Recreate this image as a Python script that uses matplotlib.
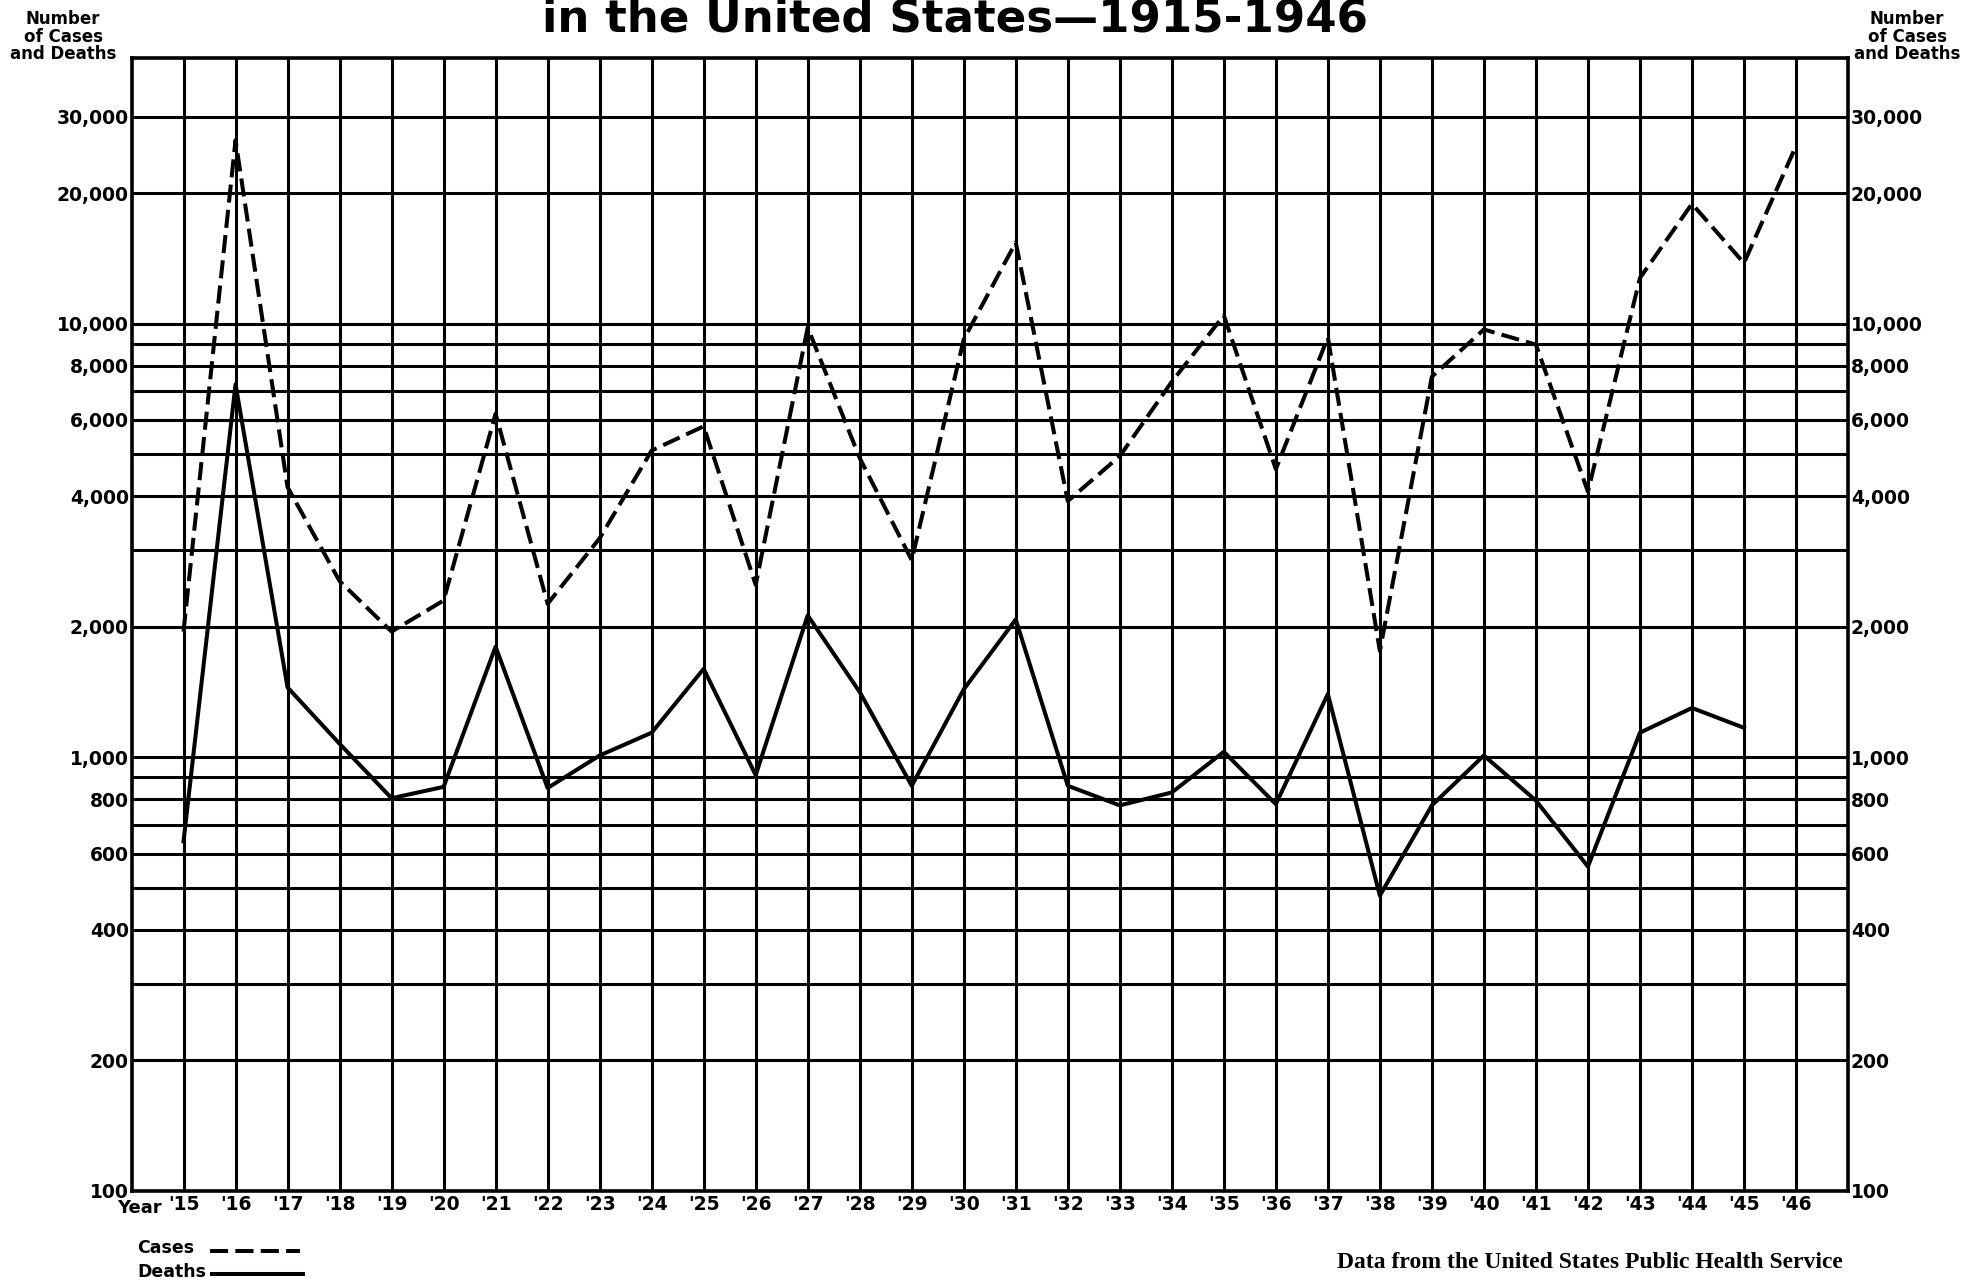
import matplotlib
matplotlib.use('Agg')
import matplotlib.pyplot as plt
import numpy as np
from matplotlib.lines import Line2D

# Polio cases and deaths, USA 1915-1946
years = list(range(1915, 1947))
cases = [1950, 26500, 4200, 2550, 1950, 2300, 6200, 2260, 3200, 5100,
         5800, 2500, 9800, 4900, 2850, 9200, 15400, 3900, 4950, 7350,
         10450, 4620, 9300, 1760, 7550, 9700, 8950, 4100, 12750, 18900,
         13800, 25700]
deaths = [640, 7250, 1450, 1075, 805, 855, 1800, 850, 1010, 1140,
          1600, 910, 2125, 1415, 860, 1435, 2080, 860, 775, 830,
          1030, 780, 1400, 480, 775, 1010, 795, 560, 1140, 1300,
          1170, np.nan]

grid_values = [100, 200, 300, 400, 500, 600, 700, 800, 900, 1000,
               2000, 3000, 4000, 5000, 6000, 7000, 8000, 9000, 10000,
               20000, 30000]
labelled = {100: '100', 200: '200', 400: '400', 600: '600', 800: '800',
            1000: '1,000', 2000: '2,000', 4000: '4,000', 6000: '6,000',
            8000: '8,000', 10000: '10,000', 20000: '20,000', 30000: '30,000'}
year_labels = ["'" + str(y)[2:] for y in years]

W, H = 1982, 1283
fig = plt.figure(figsize=(W / 100, H / 100), dpi=100)
ax = fig.add_axes([131.5 / W, 1 - 1191 / H, (1848 - 131.5) / W, (1191 - 58) / H])

ax.set_yscale('log')
ax.set_ylim(100, 41000)
ax.set_xlim(1914, 1947)

ax.set_yticks(grid_values)
ax.set_yticklabels([labelled.get(v, '') for v in grid_values])
ax.yaxis.set_minor_locator(matplotlib.ticker.NullLocator())
ax.set_xticks(years)
ax.set_xticklabels(year_labels)

ax.grid(True, which='major', color='black', linewidth=2.2)
ax.set_axisbelow(True)
for s in ax.spines.values():
    s.set_linewidth(2.6)

ax.tick_params(axis='y', length=0, pad=2, labelsize=13.5, labelright=True)
ax.tick_params(axis='x', length=0, pad=3, labelsize=13.5)
for lab in ax.get_xticklabels():
    lab.set_fontweight('bold')
for t in ax.yaxis.get_major_ticks():
    t.label1.set_fontweight('bold')
    t.label2.set_fontweight('bold')

ax.plot(years, cases, color='black', linewidth=2.9, linestyle=(0, (4.5, 1.8)), zorder=3)
ax.plot(years, deaths, color='black', linewidth=2.9, zorder=3)

# title, partly cut off at the top like the scan
fig.text(0.482, 1 - 31 / H, 'in the United States\u20141915-1946', ha='center',
         va='baseline', fontsize=32.5, fontweight='bold')

axis_title = 'Number\nof Cases\nand Deaths'
fig.text(63 / W, 1 - 63 / H, axis_title, ha='center', va='bottom',
         fontsize=12, fontweight='bold', linespacing=0.95)
fig.text(1907 / W, 1 - 63 / H, axis_title, ha='center', va='bottom',
         fontsize=12, fontweight='bold', linespacing=0.95)

fig.text(139 / W, 1 - 1208 / H, 'Year', ha='center', va='center',
         fontsize=13, fontweight='bold')

# hand drawn legend
fig.text(137 / W, 1 - 1248 / H, 'Cases', ha='left', va='center', fontsize=12.5, fontweight='bold')
fig.text(137 / W, 1 - 1272 / H, 'Deaths', ha='left', va='center', fontsize=12.5, fontweight='bold')
fig.add_artist(Line2D([210 / W, 300 / W], [1 - 1251 / H, 1 - 1251 / H], color='black',
                      linewidth=2.9, linestyle=(0, (4.5, 1.8))))
fig.add_artist(Line2D([212 / W, 303 / W], [1 - 1274 / H, 1 - 1274 / H], color='black',
                      linewidth=2.9))

fig.text(1590 / W, 1 - 1262 / H, 'Data from the United States Public Health Service',
         ha='center', va='center', fontsize=17, fontweight='bold', family='Liberation Serif')

fig.savefig('out.png', dpi=100, facecolor='white')
